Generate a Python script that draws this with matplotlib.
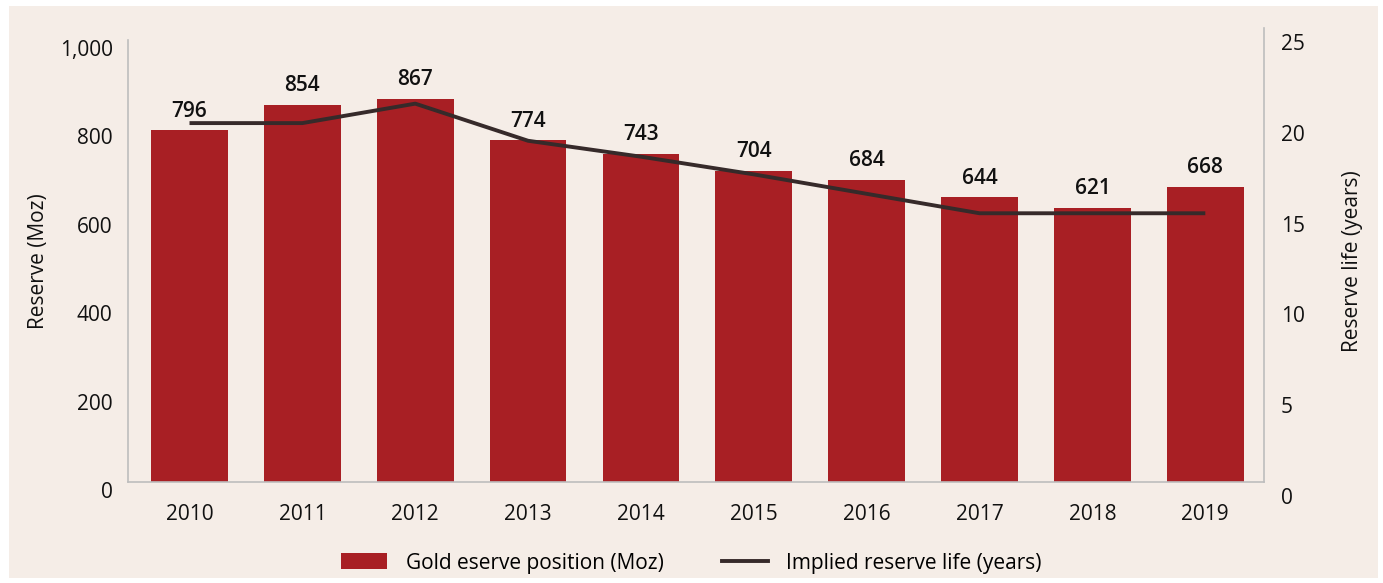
import matplotlib.pyplot as plt
from matplotlib.patches import Patch, Rectangle
from matplotlib.lines import Line2D
from matplotlib.ticker import FuncFormatter
from matplotlib.transforms import ScaledTranslation

years = ['2010', '2011', '2012', '2013', '2014', '2015', '2016', '2017', '2018', '2019']
reserves = [796, 854, 867, 774, 743, 704, 684, 644, 621, 668]
reserve_life = [20.3, 20.3, 21.4, 19.3, 18.4, 17.4, 16.3, 15.2, 15.2, 15.2]

bg = '#f5ede7'
bar_color = '#a81f24'
line_color = '#362a2a'
spine_color = '#bdbdbd'

plt.rcParams['font.family'] = ['Open Sans', 'DejaVu Sans']
plt.rcParams['font.size'] = 15

fig = plt.figure(figsize=(13.83, 5.83), dpi=100)
fig.patch.set_facecolor('white')
fig.add_artist(Rectangle((9 / 1383, 5 / 583), 1369 / 1383, 572 / 583,
                         transform=fig.transFigure, facecolor=bg,
                         edgecolor='none', zorder=-10))

ax = fig.add_axes([128 / 1383, 1 - 482 / 583, (1264 - 128) / 1383, (482 - 40) / 583])
ax.set_facecolor('none')
x = list(range(len(years)))
ax.bar(x, reserves, width=0.68, color=bar_color, zorder=2)
for xi, v in zip(x, reserves):
    ax.annotate(str(v), (xi, v), xytext=(0, 6), textcoords='offset points',
                ha='center', va='bottom', fontweight='semibold', fontsize=15,
                color='#111111', zorder=5)

ax.set_xlim(-0.545, 9.52)
ax.set_ylim(0, 1000)
ax.set_yticks([0, 200, 400, 600, 800, 1000])
ax.yaxis.set_major_formatter(FuncFormatter(lambda v, p: f'{int(v):,}'))
ax.set_xticks(x)
ax.set_xticklabels(years)
ax.tick_params(axis='y', length=0, pad=11, labelcolor='#111111')
ax.tick_params(axis='x', length=0, pad=16, labelcolor='#111111')
ax.set_ylabel('Reserve (Moz)', labelpad=8, color='#111111')
for s in ['top', 'right']:
    ax.spines[s].set_visible(False)
for s in ['left', 'bottom']:
    ax.spines[s].set_color(spine_color)
    ax.spines[s].set_linewidth(1.2)

ax2 = ax.twinx()
ax2.plot(x, reserve_life, color=line_color, linewidth=2.8, zorder=4,
         solid_capstyle='butt')
ax2.set_ylim(0, 25)
ax2.set_yticks([0, 5, 10, 15, 20, 25])
ax2.tick_params(axis='y', length=0, pad=12, labelcolor='#111111')
ax2.set_ylabel('Reserve life (years)', labelpad=27, color='#111111')
for s in ['top', 'left', 'bottom']:
    ax2.spines[s].set_visible(False)
ax2.spines['right'].set_color(spine_color)
ax2.spines['right'].set_linewidth(1.2)
ax2.spines['right'].set_bounds(0, 25.7)

# tick labels in the original sit a little below their grid positions
for lbl in ax.get_yticklabels():
    lbl.set_transform(lbl.get_transform() + ScaledTranslation(0, -8 / 100, fig.dpi_scale_trans))
for t, lbl in zip([0, 5, 10, 15, 20, 25], ax2.get_yticklabels()):
    shift = 2 + (25 - t) * 0.48
    lbl.set_transform(lbl.get_transform() + ScaledTranslation(0, -shift / 100, fig.dpi_scale_trans))

handles = [Patch(facecolor=bar_color, edgecolor='none'),
           Line2D([0], [0], color=line_color, linewidth=2.8)]
fig.legend(handles, ['Gold eserve position (Moz)', 'Implied reserve life (years)'],
           loc='center', bbox_to_anchor=(0.5, 1 - 563 / 583), ncol=2, frameon=False,
           fontsize=15, handlelength=2.2, handleheight=0.8, handletextpad=0.9,
           columnspacing=2.8)

fig.savefig('out.png', dpi=100, facecolor=fig.get_facecolor())
